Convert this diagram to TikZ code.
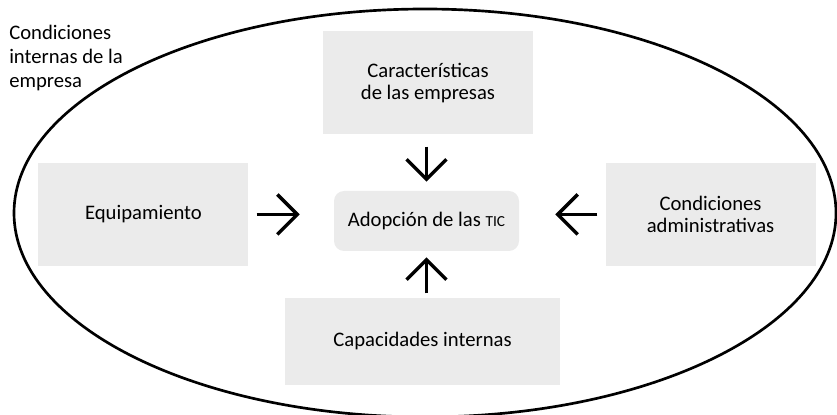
\documentclass[tikz,border=0pt]{standalone}
\usepackage{fontspec}
\setmainfont{Carlito}
\usepackage{tikz}
\usetikzlibrary{positioning,arrows.meta}
\definecolor{boxgray}{RGB}{235,235,235}

\begin{document}
\begin{tikzpicture}[x=0.75pt,y=0.75pt,
   fac/.style={fill=boxgray, align=center, minimum width=157.5pt,
               minimum height=77.25pt, inner sep=2pt,
               font=\fontsize{15.5}{16}\selectfont},
   core/.style={fill=boxgray, rounded corners=7.5pt, align=center,
               minimum width=138.75pt, minimum height=45pt, inner sep=2pt,
               font=\fontsize{15.5}{16}\selectfont},
   arr/.style={line width=2.6pt, -{Straight Barb[length=15pt,width=30pt]}}]
  \useasboundingbox (0,0) rectangle (837,414);
  \draw[line width=2pt] (425,201) ellipse [x radius=308.25pt, y radius=153pt];
  \node[core] (adop) at (426.5,193) {Adopción de las {\fontsize{11.5}{12}\selectfont TIC}};
  \node[fac, above=42pt of adop, xshift=1.1pt] (carac) {Características\\de las empresas};
  \node[fac, below=34.5pt of adop, xshift=-3pt, minimum width=206.25pt,
        minimum height=65.25pt] (capac) {Capacidades internas};
  \node[fac, left=63.75pt of adop, yshift=4.9pt] (equip) {Equipamiento};
  \node[fac, right=64.5pt of adop, yshift=4.9pt] (admin) {Condiciones\\administrativas};
  \node[anchor=north west, inner sep=0pt, align=left,
        font=\fontsize{15.5}{18}\selectfont] (cond) at (9,389)
        {Condiciones\\internas de la\\empresa};
  \draw[arr, shorten <=6pt, shorten >=25.5pt] (equip.east) -- (equip.east -| adop.west);
  \draw[arr, shorten <=6pt, shorten >=27pt] (admin.west) -- (admin.west -| adop.east);
  \draw[arr, shorten <=9pt, shorten >=6.75pt] (carac.south -| adop.north) -- (adop.north);
  \draw[arr, shorten <=3pt, shorten >=4.5pt] (capac.north -| adop.south) -- (adop.south);
\end{tikzpicture}
\end{document}
